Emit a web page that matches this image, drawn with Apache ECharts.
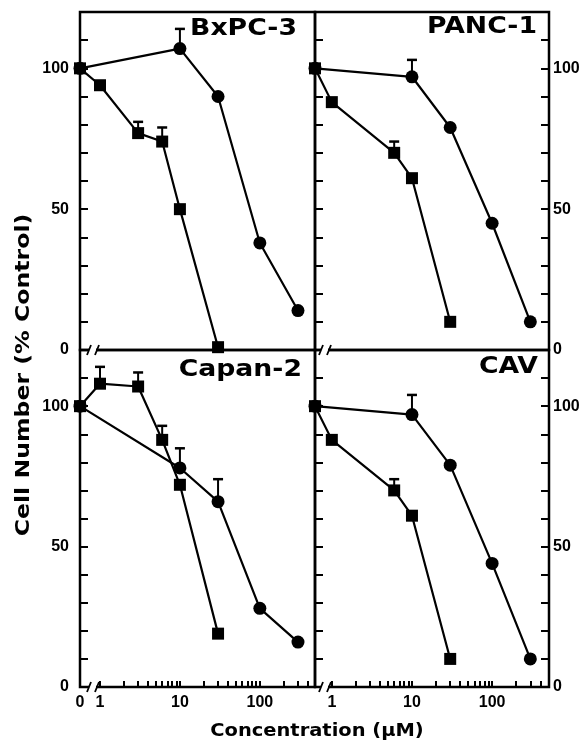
<!DOCTYPE html>
<html>
<head>
<meta charset="utf-8">
<script src="https://cdn.jsdelivr.net/npm/echarts@6/dist/echarts.min.js"></script>
<style>html,body{margin:0;padding:0;background:#fff}#c{width:586px;height:742px}</style>
</head>
<body>
<div id="c"></div>
<script>
// ---------- DATA (concentration in µM, 0 = control; cell number % control) ----------
// BxPC-3
const bxCircleX = [0, 10, 30, 100, 300];
const bxCircleY = [100, 107, 90, 38, 14];
const bxSquareX = [0, 1, 3, 6, 10, 30];
const bxSquareY = [100, 94, 77, 74, 50, 1];
const bxErr = [[10, 107, 114], [3, 77, 81], [6, 74, 79]];
// PANC-1
const paCircleX = [0, 10, 30, 100, 300];
const paCircleY = [100, 97, 79, 45, 10];
const paSquareX = [0, 1, 6, 10, 30];
const paSquareY = [100, 88, 70, 61, 10];
const paErr = [[10, 97, 103], [6, 70, 74]];
// Capan-2
const caCircleX = [0, 10, 30, 100, 300];
const caCircleY = [100, 78, 66, 28, 16];
const caSquareX = [0, 1, 3, 6, 10, 30];
const caSquareY = [100, 108, 107, 88, 72, 19];
const caErr = [[10, 78, 85], [30, 66, 74], [1, 108, 114], [3, 107, 112], [6, 88, 93]];
// CAV
const cvCircleX = [0, 10, 30, 100, 300];
const cvCircleY = [100, 97, 79, 44, 10];
const cvSquareX = [0, 1, 6, 10, 30];
const cvSquareY = [100, 88, 70, 61, 10];
const cvErr = [[10, 97, 104], [6, 70, 74]];
// tick values
const xTickValues = [1,2,3,4,5,6,7,8,9,10,20,30,40,50,60,70,80,90,100,200,300,400];
const xLabelValues = [1, 10, 100];
const yLabelValues = [0, 50, 100];
const panelNames = ['BxPC-3', 'PANC-1', 'Capan-2', 'CAV'];
const yTitle = 'Cell Number (% Control)';
const xTitle = 'Concentration (\u00b5M)';

// ---------- LAYOUT ----------
const XMIN_L = -0.25, XMAX_L = 2.69, XMIN_R = -0.21, XMAX_R = 2.71;
const YMIN = 0, YMAX = 120;
const lx = (c, xmin) => c === 0 ? xmin : Math.log10(c);

const chart = echarts.init(document.getElementById('c'), null, {renderer: 'canvas'});

const grids = [
  {left: 80, top: 12, width: 235, height: 338},
  {left: 315, top: 12, width: 234, height: 338},
  {left: 80, top: 350, width: 235, height: 337},
  {left: 315, top: 350, width: 234, height: 337}
].map(g => Object.assign({show: true, borderColor: '#000', borderWidth: 2.5, backgroundColor: 'transparent', containLabel: false}, g));

const tickFont = {color: '#000', fontFamily: '"Liberation Sans", Arial, sans-serif', fontWeight: 'bold', fontSize: 16};

function xAxis(gi, xmin, xmax, showTicks, zeroLabel) {
  const labelVals = xLabelValues.map(v => Math.log10(v));
  if (zeroLabel) labelVals.unshift(xmin);
  return {
    type: 'value', gridIndex: gi, min: xmin, max: xmax,
    axisLine: {show: false, onZero: false}, splitLine: {show: false},
    axisTick: showTicks ? {show: true, inside: true, length: 6, lineStyle: {color: '#000', width: 2},
      customValues: xTickValues.map(v => Math.log10(v))} : {show: false},
    axisLabel: showTicks ? Object.assign({show: true, margin: 8, customValues: labelVals,
      formatter: v => (Math.abs(v - xmin) < 1e-9 ? '0' : String(Math.round(Math.pow(10, v))))}, tickFont) : {show: false}
  };
}
function yAxis(gi, pos, labels) {
  return {
    type: 'value', gridIndex: gi, position: pos, min: YMIN, max: YMAX, interval: 10,
    axisLine: {show: false, onZero: false}, splitLine: {show: false},
    axisTick: {show: true, inside: true, length: 8, lineStyle: {color: '#000', width: 2}},
    axisLabel: labels ? Object.assign({show: true, margin: pos === 'left' ? 11 : 4,
      formatter: v => (yLabelValues.indexOf(v) >= 0 ? String(v) : '')}, tickFont) : {show: false}
  };
}

const xAxes = [
  xAxis(0, XMIN_L, XMAX_L, false, false),
  xAxis(1, XMIN_R, XMAX_R, false, false),
  xAxis(2, XMIN_L, XMAX_L, true, true),
  xAxis(3, XMIN_R, XMAX_R, true, false)
];
const yAxes = [
  yAxis(0, 'left', true),   // 0
  yAxis(1, 'left', false),  // 1
  yAxis(1, 'right', true),  // 2
  yAxis(2, 'left', true),   // 3
  yAxis(3, 'left', false),  // 4
  yAxis(3, 'right', true)   // 5
];

function renderErr(params, api) {
  const p0 = api.coord([api.value(0), api.value(1)]);
  const p1 = api.coord([api.value(0), api.value(2)]);
  const hw = 5;
  return {type: 'group', children: [
    {type: 'line', shape: {x1: p0[0], y1: p0[1], x2: p1[0], y2: p1[1]}, style: {stroke: '#000', lineWidth: 2}},
    {type: 'line', shape: {x1: p1[0] - hw, y1: p1[1], x2: p1[0] + hw, y2: p1[1]}, style: {stroke: '#000', lineWidth: 2.5}}
  ]};
}

function panel(xi, yi, xmin, cX, cY, sX, sY, errs) {
  const common = {type: 'line', xAxisIndex: xi, yAxisIndex: yi, silent: true, animation: false,
    lineStyle: {color: '#000', width: 2.2}, itemStyle: {color: '#000', borderWidth: 0}, z: 3};
  return [
    {type: 'custom', xAxisIndex: xi, yAxisIndex: yi, renderItem: renderErr, animation: false, silent: true,
      encode: {x: 0, y: [1, 2]}, data: errs.map(e => [lx(e[0], xmin), e[1], e[2]]), z: 2},
    Object.assign({}, common, {symbol: 'circle', symbolSize: 13, data: cX.map((c, i) => [lx(c, xmin), cY[i]])}),
    Object.assign({}, common, {symbol: 'rect', symbolSize: 12, data: sX.map((c, i) => [lx(c, xmin), sY[i]])})
  ];
}

const series = [].concat(
  panel(0, 0, XMIN_L, bxCircleX, bxCircleY, bxSquareX, bxSquareY, bxErr),
  panel(1, 2, XMIN_R, paCircleX, paCircleY, paSquareX, paSquareY, paErr),
  panel(2, 3, XMIN_L, caCircleX, caCircleY, caSquareX, caSquareY, caErr),
  panel(3, 5, XMIN_R, cvCircleX, cvCircleY, cvSquareX, cvSquareY, cvErr)
);

const titleFont = 'bold 23px "DejaVu Sans", sans-serif';
const texts = [
  {name: panelNames[0], x: 297, y: 29},
  {name: panelNames[1], x: 537, y: 27},
  {name: panelNames[2], x: 302, y: 370},
  {name: panelNames[3], x: 538, y: 367}
].map(t => ({type: 'text', x: t.x, y: t.y, scaleX: 1.16, z: 10,
  style: {text: t.name, font: titleFont, fill: '#000', textAlign: 'right', textVerticalAlign: 'middle'}}));

texts.push({type: 'text', x: 24, y: 375, rotation: Math.PI / 2, scaleX: 1.18, z: 10,
  style: {text: yTitle, font: 'bold 20px "DejaVu Sans", sans-serif', fill: '#000', textAlign: 'center', textVerticalAlign: 'middle'}});
texts.push({type: 'text', x: 317, y: 731, scaleX: 1.08, z: 10,
  style: {text: xTitle, font: 'bold 18px "DejaVu Sans", sans-serif', fill: '#000', textAlign: 'center', textVerticalAlign: 'middle'}});

chart.setOption({
  animation: false,
  backgroundColor: '#fff',
  grid: grids,
  xAxis: xAxes,
  yAxis: yAxes,
  series: series,
  graphic: texts
});

// axis break marks placed from the axes' own scales
function breakMark(xAxisIndex, yAxisIndex, xmin, yVal, off) {
  const px = chart.convertToPixel({xAxisIndex: xAxisIndex}, xmin) + off;
  const py = chart.convertToPixel({yAxisIndex: yAxisIndex}, yVal);
  return {type: 'group', z: 20, children: [
    {type: 'rect', shape: {x: px, y: py - 3, width: 7, height: 6}, style: {fill: '#fff'}, z: 20},
    {type: 'line', shape: {x1: px - 2, y1: py + 5, x2: px + 2, y2: py - 5}, style: {stroke: '#000', lineWidth: 1.8}, z: 21},
    {type: 'line', shape: {x1: px + 6, y1: py + 5, x2: px + 10, y2: py - 5}, style: {stroke: '#000', lineWidth: 1.8}, z: 21}
  ]};
}
const marks = [
  breakMark(2, 3, XMIN_L, YMAX, 9),
  breakMark(2, 3, XMIN_L, YMIN, 9),
  breakMark(3, 5, XMIN_R, YMAX, 6),
  breakMark(3, 5, XMIN_R, YMIN, 6)
];
chart.setOption({graphic: texts.concat(marks)});
</script>
</body>
</html>
